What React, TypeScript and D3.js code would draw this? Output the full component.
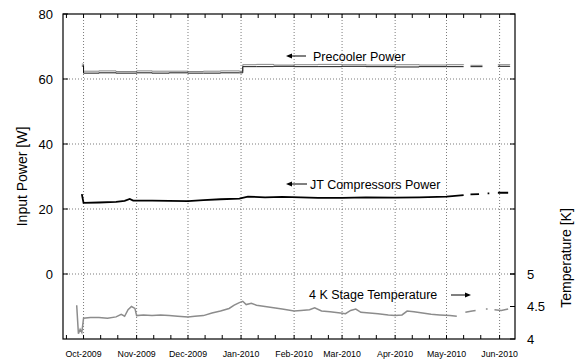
import * as d3 from "d3";

// x-axis month labels (Oct-2009 .. Jun-2010)
const monthTicks = [
  "2009-10-01", "2009-11-01", "2009-12-01", "2010-01-01", "2010-02-01",
  "2010-03-01", "2010-04-01", "2010-05-01", "2010-06-01",
];
const powerTicks = [0, 20, 40, 60, 80];
const powerGrid = [0, 20, 40, 60];
const tempTicks = [4, 4.5, 5];

// Precooler power, low / high edge of the noisy band [W]
const preDates = [
  "2009-09-30", "2009-10-01", "2009-10-10", "2009-10-20", "2009-11-01", "2009-11-10",
  "2009-11-20", "2009-12-01", "2009-12-10", "2009-12-20", "2009-12-31", "2010-01-02",
  "2010-01-10", "2010-01-20", "2010-02-01", "2010-02-15", "2010-03-01", "2010-03-15",
  "2010-04-01", "2010-04-15", "2010-05-01", "2010-05-11", "2010-05-13", "2010-05-15",
  "2010-05-22", "2010-05-27", "2010-05-28", "2010-05-29", "2010-05-31", "2010-06-07",
];
const preLow = [
  64.0, 61.8, 61.9, 61.8, 61.9, 61.8, 61.9, 61.8, 61.8, 61.9, 61.9, 63.8,
  63.8, 63.9, 63.8, 63.8, 63.9, 63.8, 63.7, 63.8, 63.8, 63.8, null, 63.8,
  63.8, null, 63.8, null, 63.9, 64.0,
];
const preHigh = [
  64.6, 62.4, 62.5, 62.3, 62.5, 62.4, 62.4, 62.3, 62.4, 62.5, 62.4, 64.4,
  64.5, 64.3, 64.4, 64.5, 64.4, 64.3, 64.4, 64.3, 64.4, 64.3, null, 64.2,
  64.2, null, 64.2, null, 64.4, 64.5,
];

// JT compressors power [W]
const jtDates = [
  "2009-09-30", "2009-10-01", "2009-10-10", "2009-10-20", "2009-10-25", "2009-10-28",
  "2009-10-30", "2009-11-10", "2009-11-20", "2009-12-01", "2009-12-10", "2009-12-20",
  "2009-12-31", "2010-01-05", "2010-01-15", "2010-01-25", "2010-02-05", "2010-02-15",
  "2010-03-01", "2010-03-15", "2010-04-01", "2010-04-15", "2010-05-01", "2010-05-11",
  "2010-05-13", "2010-05-15", "2010-05-20", "2010-05-23", "2010-05-25", "2010-05-26",
  "2010-05-29", "2010-05-31", "2010-06-06",
];
const jtPower = [
  24.6, 21.9, 22.0, 22.2, 22.5, 23.1, 22.6, 22.6, 22.5, 22.4, 22.7, 23.0,
  23.2, 23.8, 23.6, 23.7, 23.6, 23.4, 23.4, 23.6, 23.5, 23.6, 23.8, 24.3,
  null, 24.5, 24.6, null, 24.8, 24.8, null, 25.0, 25.0,
];

// 4 K stage temperature [K]
const tempDates = [
  "2009-09-27", "2009-09-28", "2009-09-29", "2009-09-30", "2009-10-01", "2009-10-05",
  "2009-10-10", "2009-10-15", "2009-10-20", "2009-10-23", "2009-10-25", "2009-10-27",
  "2009-10-29", "2009-10-31", "2009-11-01", "2009-11-05", "2009-11-10", "2009-11-15",
  "2009-11-20", "2009-11-25", "2009-12-01", "2009-12-05", "2009-12-10", "2009-12-15",
  "2009-12-20", "2009-12-25", "2009-12-28", "2009-12-31", "2010-01-02", "2010-01-04",
  "2010-01-07", "2010-01-10", "2010-01-15", "2010-01-20", "2010-01-25", "2010-02-01",
  "2010-02-05", "2010-02-10", "2010-02-13", "2010-02-17", "2010-02-22", "2010-02-28",
  "2010-03-03", "2010-03-06", "2010-03-09", "2010-03-12", "2010-03-17", "2010-03-22",
  "2010-03-28", "2010-04-01", "2010-04-05", "2010-04-08", "2010-04-12", "2010-04-17",
  "2010-04-22", "2010-04-27", "2010-05-03", "2010-05-07", "2010-05-10", "2010-05-12",
  "2010-05-16", "2010-05-18", "2010-05-20", "2010-05-24", "2010-05-25", "2010-05-26",
  "2010-05-29", "2010-06-02", "2010-06-06",
];
const temp4K = [
  4.52, 4.08, 4.15, 4.10, 4.32, 4.33, 4.33, 4.32, 4.34, 4.38, 4.35, 4.45,
  4.50, 4.47, 4.36, 4.37, 4.36, 4.37, 4.36, 4.35, 4.34, 4.35, 4.36, 4.40,
  4.43, 4.47, 4.52, 4.56, 4.58, 4.53, 4.55, 4.52, 4.50, 4.48, 4.46, 4.43,
  4.44, 4.45, 4.48, 4.43, 4.42, 4.40, 4.39, 4.44, 4.46, 4.41, 4.40, 4.39,
  4.37, 4.36, 4.37, 4.43, 4.42, 4.40, 4.38, 4.37, 4.36, 4.35, null, 4.41,
  4.43, 4.44, null, 4.46, 4.46, null, 4.45, 4.44, 4.46,
];

const parse = d3.utcParse("%Y-%m-%d");
const fmt = d3.utcFormat("%b-%Y");

export default function App() {
  const width = 576;
  const height = 363;
  const marginLeft = 63;
  const marginRight = 61;
  const marginTop = 14;
  const marginBottom = 24;
  const font = "'Liberation Sans', Arial, Helvetica, sans-serif";

  const x = d3
    .scaleUtc()
    .domain([parse("2009-09-19")!, parse("2010-06-10")!])
    .range([marginLeft, width - marginRight]);
  const yP = d3
    .scaleLinear()
    .domain([-20, 80])
    .range([height - marginBottom, marginTop]);
  const yT = d3
    .scaleLinear()
    .domain([4, 9])
    .range([height - marginBottom, marginTop]);

  const x0 = marginLeft;
  const x1 = width - marginRight;
  const y0 = height - marginBottom;
  const y1 = marginTop;

  type P = { d: Date; v: number | null };
  const pre = preDates.map((d, i) => ({ d: parse(d)!, lo: preLow[i], hi: preHigh[i] }));
  const jt: P[] = jtDates.map((d, i) => ({ d: parse(d)!, v: jtPower[i] }));
  const tk: P[] = tempDates.map((d, i) => ({ d: parse(d)!, v: temp4K[i] }));

  const preLo = d3
    .line<(typeof pre)[number]>()
    .defined((p) => p.lo != null)
    .x((p) => x(p.d))
    .y((p) => yP(p.lo as number))
    .curve(d3.curveStepAfter);
  const preHi = d3
    .line<(typeof pre)[number]>()
    .defined((p) => p.hi != null)
    .x((p) => x(p.d))
    .y((p) => yP(p.hi as number))
    .curve(d3.curveStepAfter);
  const jtLine = d3
    .line<P>()
    .defined((p) => p.v != null)
    .x((p) => x(p.d))
    .y((p) => yP(p.v as number));
  const tkLine = d3
    .line<P>()
    .defined((p) => p.v != null)
    .x((p) => x(p.d))
    .y((p) => yT(p.v as number));

  const minorTicks = d3.utcDays(x.domain()[0], x.domain()[1]).filter((d) => [1, 11, 21].includes(d.getUTCDate()));
  const months = monthTicks.map((m) => parse(m)!);

  return (
    <svg
      width={width}
      height={height}
      style={{ position: "absolute", left: 0, top: 0, background: "#fff" }}
      fontFamily={font}
    >
      {/* grid */}
      <g stroke="#444" strokeWidth={0.7} strokeDasharray="1,2">
        {months.map((m, i) => (
          <line key={"v" + i} x1={x(m)} x2={x(m)} y1={y0} y2={y1} />
        ))}
        {powerGrid.map((v) => (
          <line key={"h" + v} x1={x0} x2={x1} y1={yP(v)} y2={yP(v)} />
        ))}
      </g>

      {/* ticks */}
      <g stroke="#000" strokeWidth={1}>
        {minorTicks.map((d, i) => (
          <g key={"t" + i}>
            <line x1={x(d)} x2={x(d)} y1={y0} y2={y0 - 4} />
            <line x1={x(d)} x2={x(d)} y1={y1} y2={y1 + 4} />
          </g>
        ))}
        {powerTicks.map((v) => (
          <g key={"p" + v}>
            <line x1={x0} x2={x0 + 5} y1={yP(v)} y2={yP(v)} />
            <line x1={x1} x2={x1 - 5} y1={yP(v)} y2={yP(v)} />
          </g>
        ))}
        {tempTicks.map((v) => (
          <line key={"k" + v} x1={x1} x2={x1 - 5} y1={yT(v)} y2={yT(v)} />
        ))}
      </g>

      {/* data */}
      <path d={preHi(pre) || undefined} fill="none" stroke="#555" strokeWidth={0.7} />
      <path d={preLo(pre) || undefined} fill="none" stroke="#000" strokeWidth={0.9} />
      <path d={jtLine(jt) || undefined} fill="none" stroke="#000" strokeWidth={1.8} />
      <path d={tkLine(tk) || undefined} fill="none" stroke="#8c8c8c" strokeWidth={1.5} />

      {/* frame */}
      <rect x={x0} y={y1} width={x1 - x0} height={y0 - y1} fill="none" stroke="#000" strokeWidth={1.2} />

      {/* tick labels */}
      <g fontSize={13} textAnchor="end" fill="#000">
        {powerTicks.map((v) => (
          <text key={v} x={x0 - 10} y={yP(v)} dy="0.36em">
            {v}
          </text>
        ))}
      </g>
      <g fontSize={13} textAnchor="start" fill="#000">
        {tempTicks.map((v) => (
          <text key={v} x={x1 + 12} y={yT(v)} dy="0.36em">
            {v}
          </text>
        ))}
      </g>
      <g fontSize={8.8} textAnchor="middle" fill="#000">
        {months.map((m, i) => (
          <text key={i} x={x(m)} y={y0 + 18}>
            {fmt(m)}
          </text>
        ))}
      </g>

      {/* axis titles */}
      <text
        transform={`translate(27,${(y0 + y1) / 2}) rotate(-90)`}
        textAnchor="middle"
        fontSize={14}
      >
        Input Power [W]
      </text>
      <text
        transform={`translate(571,258) rotate(-90)`}
        textAnchor="middle"
        fontSize={14}
      >
        Temperature [K]
      </text>

      {/* annotations */}
      <g fontSize={12.5} fill="#000">
        <text x={313} y={61}>Precooler Power</text>
        <text x={310} y={189}>JT Compressors Power</text>
        <text x={309} y={299}>4 K Stage Temperature</text>
      </g>
      <g stroke="#000" strokeWidth={1}>
        <line x1={291} x2={306} y1={56} y2={56} />
        <line x1={291} x2={307} y1={184} y2={184} />
        <line x1={451} x2={466} y1={295} y2={295} />
      </g>
      <g fill="#000">
        <path d="M286,56 L292,53.5 L292,58.5 Z" />
        <path d="M286,184 L292,181.5 L292,186.5 Z" />
        <path d="M471,295 L465,292.5 L465,297.5 Z" />
      </g>
    </svg>
  );
}
